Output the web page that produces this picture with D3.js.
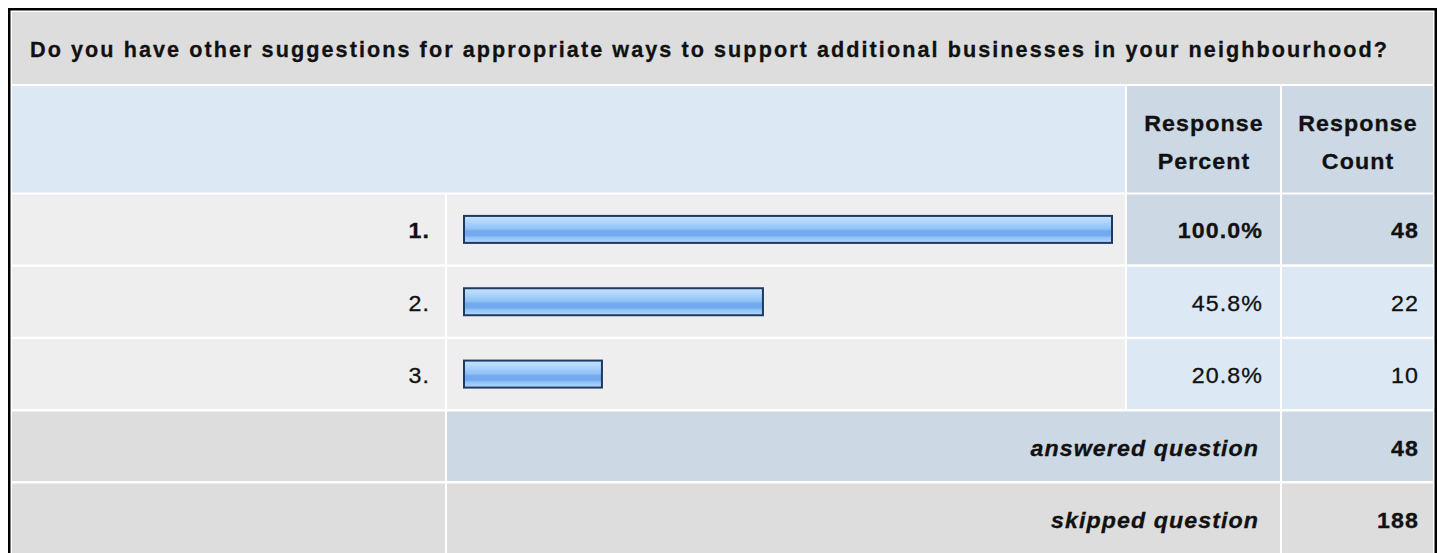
<!DOCTYPE html>
<html>
<head>
<meta charset="utf-8">
<script src="https://cdn.jsdelivr.net/npm/d3@7"></script>
<style>
  html, body { margin: 0; padding: 0; background: #ffffff; }
  svg { display: block; }
  text { font-family: "Liberation Sans", Arial, Helvetica, sans-serif; font-size: 21.5px; letter-spacing: 1px; fill: #111; stroke: #111; stroke-width: 0.3px; }
</style>
</head>
<body>
<svg id="chart" width="1437" height="553"></svg>
<script>
// ---- data ----
const questionTitle = "Do you have other suggestions for appropriate ways to support additional businesses in your neighbourhood?";
const headerPercent = ["Response", "Percent"];
const headerCount = ["Response", "Count"];
const categories = ["1.", "2.", "3."];
const responsePercent = [100.0, 45.8, 20.8];
const responseCount = [48, 22, 10];
const summaryLabels = ["answered question", "skipped question"];
const summaryValues = [48, 188];

// ---- layout ----
const W = 1437, H = 553;
const SX = 1.08; // slight horizontal stretch of the glyphs
const svg = d3.select("#chart");
const C = {
  title: "#dddddd", headLeft: "#dde8f5", headCell: "#cdd8e5",
  row: "#eeeeee", cellHi: "#cdd8e5", cellLo: "#dde8f5", gray: "#dddddd"
};
const col = { l0: 12, r0: 445, l1: 447, r1: 1125, l2: 1127, r2: 1280, l3: 1282, r3: 1433 };

// outer frame
svg.append("rect").attr("x", 8).attr("y", 8).attr("width", W - 8).attr("height", H).attr("fill", "#000");
svg.append("rect").attr("x", 10.5).attr("y", 10.5).attr("width", 1424).attr("height", H).attr("fill", "#fff");

function cell(x0, x1, y0, y1, fill) {
  svg.append("rect").attr("x", x0).attr("y", y0).attr("width", x1 - x0).attr("height", y1 - y0).attr("fill", fill);
}
function label(x, y, str, anchor, weight, style) {
  return svg.append("g").attr("transform", `translate(${x},${y}) scale(${SX},1)`)
    .append("text").attr("text-anchor", anchor).attr("font-weight", weight || "normal")
    .attr("font-style", style || "normal").text(str);
}

// title row
cell(col.l0, col.r3, 12, 84, C.title);
svg.append("text").attr("x", 30).attr("y", 57).attr("font-weight", "bold")
  .style("font-size", "21.6px").style("letter-spacing", "0px")
  .attr("textLength", 1357).attr("lengthAdjust", "spacing")
  .text(questionTitle);

// header row
cell(col.l0, col.r1, 86, 192.5, C.headLeft);
cell(col.l2, col.r2, 86, 192.5, C.headCell);
cell(col.l3, col.r3, 86, 192.5, C.headCell);
[[headerPercent, (col.l2 + col.r2) / 2], [headerCount, (col.l3 + col.r3) / 2]].forEach(([lines, cx]) => {
  lines.forEach((t, i) => label(cx + 0.5, 131 + i * 38, t, "middle", "bold"));
});

// data rows
const y = d3.scaleBand().domain(categories).range([194.5, 411.5]).paddingInner(0);
const rowH = y.bandwidth() - 2.5;
const x = d3.scaleLinear().domain([0, 100]).range([469, 1113]);
const barX0 = 463, barH = 29;
const maxPct = d3.max(responsePercent);

const defs = svg.append("defs");
const grad = defs.append("linearGradient").attr("id", "barGrad").attr("x1", 0).attr("y1", 0).attr("x2", 0).attr("y2", 1);
[["0%", "#c8e2fd"], ["18%", "#b3d8fc"], ["32%", "#a2cefa"], ["48%", "#8fc2f6"], ["56%", "#74aaee"], ["72%", "#72a9ee"], ["80%", "#91c3f6"], ["100%", "#b2d8fc"]]
  .forEach(([o, c]) => grad.append("stop").attr("offset", o).attr("stop-color", c));

categories.forEach((cat, i) => {
  const y0 = y(cat), y1 = y0 + rowH, cy = (y0 + y1) / 2;
  const hi = responsePercent[i] === maxPct;
  cell(col.l0, col.r0, y0, y1, C.row);
  cell(col.l1, col.r1, y0, y1, C.row);
  cell(col.l2, col.r2, y0, y1, hi ? C.cellHi : C.cellLo);
  cell(col.l3, col.r3, y0, y1, hi ? C.cellHi : C.cellLo);
  svg.append("rect").attr("x", barX0 + 1).attr("y", cy - barH / 2 + 1)
    .attr("width", x(responsePercent[i]) - barX0 - 2).attr("height", barH - 2)
    .attr("fill", "url(#barGrad)").attr("stroke", "#1f3a62").attr("stroke-width", 2);
  const fw = hi ? "bold" : "normal";
  label(430, cy + 9, cat, "end", fw);
  label(1263, cy + 9, d3.format(".1f")(responsePercent[i]) + "%", "end", fw);
  label(1419, cy + 9, responseCount[i], "end", fw);
});

// summary rows
const ys = d3.scaleBand().domain(summaryLabels).range([411.5, 555.5]);
summaryLabels.forEach((lab, i) => {
  const y0 = ys(lab), y1 = y0 + ys.bandwidth() - 2.5, cy = (y0 + y1) / 2;
  const fill = i === 0 ? C.cellHi : C.gray;
  cell(col.l0, col.r0, y0, y1, C.gray);
  cell(col.l1, col.r2, y0, y1, fill);
  cell(col.l3, col.r3, y0, y1, fill);
  label(1259, cy + 10, lab, "end", "bold", "italic");
  label(1419, cy + 10, summaryValues[i], "end", "bold");
});
</script>
</body>
</html>
